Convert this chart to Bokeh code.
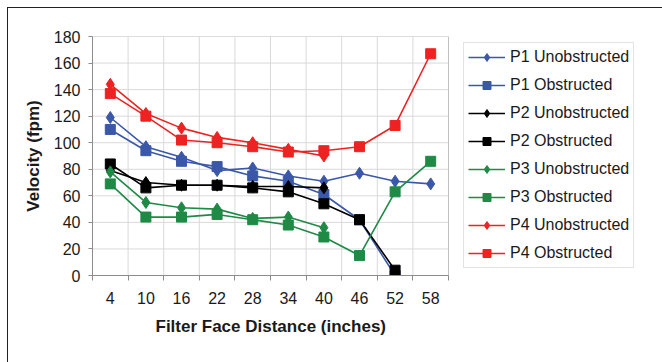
from bokeh.plotting import figure
from bokeh.models import (FixedTicker, Legend, LegendItem, ColumnDataSource, Range1d,
                          BoxAnnotation, Title)
from bokeh.embed import file_html
from bokeh.resources import INLINE

# ---- data ----
categories = ["4", "10", "16", "22", "28", "34", "40", "46", "52", "58"]
p1_unobstructed = [119, 97, 89, 79, 81, 75, 71, 77, 71, 69]
p1_obstructed = [110, 94, 86, 82, 75, 71, 61, 42, 0]
p2_unobstructed = [79, 70, 68, 68, 67, 67, 66]
p2_obstructed = [84, 66, 68, 68, 66, 63, 54, 42, 4]
p3_unobstructed = [78, 55, 51, 50, 43, 44, 36]
p3_obstructed = [69, 44, 44, 46, 42, 38, 29, 15, 63, 86]
p4_unobstructed = [144, 122, 111, 104, 100, 95, 90]
p4_obstructed = [137, 120, 102, 100, 97, 93, 94, 97, 113, 167]
y_ticks = [0, 20, 40, 60, 80, 100, 120, 140, 160, 180]
x_title = "Filter Face Distance (inches)"
y_title = "Velocity (fpm)"

series = [
    ("P1 Unobstructed", p1_unobstructed, "#3b58a8", "diamond"),
    ("P1 Obstructed", p1_obstructed, "#3b58a8", "square"),
    ("P2 Unobstructed", p2_unobstructed, "#000000", "diamond"),
    ("P2 Obstructed", p2_obstructed, "#000000", "square"),
    ("P3 Unobstructed", p3_unobstructed, "#1e8a46", "diamond"),
    ("P3 Obstructed", p3_obstructed, "#1e8a46", "square"),
    ("P4 Unobstructed", p4_unobstructed, "#ee2222", "diamond"),
    ("P4 Obstructed", p4_obstructed, "#ee2222", "square"),
]

n = len(categories)
centers = [i + 0.5 for i in range(n)]
bounds = list(range(n + 1))
y_min, y_max = y_ticks[0], y_ticks[-1]

W, H = 662, 362
LEFT, TOP, RIGHT, BOTTOM = 92, 36, 0, 87
PLOT_W = 356                      # pixel width of the category area
frame_w = W - LEFT - RIGHT
x_end = n * frame_w / PLOT_W      # frame extends under the legend

p = figure(width=W, height=H, output_backend="svg", toolbar_location=None,
           x_range=Range1d(0, x_end), y_range=Range1d(y_min, y_max),
           min_border_left=LEFT, min_border_top=TOP, min_border_right=RIGHT,
           min_border_bottom=BOTTOM)
p.border_fill_color = None
p.styles = {"background":
            "linear-gradient(#222, #222) 7px 7px / 1px 100% no-repeat, "
            "linear-gradient(#222, #222) 7px 7px / 100% 1px no-repeat, white"}
p.background_fill_color = "white"
p.outline_line_color = None
p.xgrid.visible = False
p.ygrid.visible = False

FONT = "Liberation Sans"
GRID = "#d9d9d9"
EDGE = "#8c8c8c"
TXT = "#1a1a1a"

# grid lines limited to the category area
p.segment(x0=[0] * len(y_ticks), x1=[n] * len(y_ticks), y0=y_ticks, y1=y_ticks,
          line_color=GRID, line_width=1)
p.segment(x0=bounds, x1=bounds, y0=[y_min] * len(bounds), y1=[y_max] * len(bounds),
          line_color=GRID, line_width=1)
p.add_layout(BoxAnnotation(left=0, right=n, bottom=y_min, top=y_max,
                           fill_alpha=0, line_color=EDGE, line_width=1))

# x axis
p.xaxis.ticker = FixedTicker(ticks=centers, minor_ticks=bounds)
p.xaxis.bounds = (0, n)
p.xaxis.major_label_overrides = {c: lab for c, lab in zip(centers, categories)}
p.xaxis.major_tick_out = 0
p.xaxis.major_tick_in = 0
p.xaxis.minor_tick_out = 5
p.xaxis.minor_tick_in = 0
p.xaxis.major_label_standoff = 11

# y axis
p.yaxis.ticker = FixedTicker(ticks=y_ticks)
p.yaxis.major_tick_out = 4
p.yaxis.major_tick_in = 0
p.yaxis.minor_tick_out = 0
p.yaxis.minor_tick_in = 0
p.yaxis.major_label_standoff = 8
p.yaxis.axis_label = y_title
p.yaxis.axis_label_standoff = 8

for ax in (p.xaxis[0], p.yaxis[0]):
    ax.axis_line_color = EDGE
    ax.major_tick_line_color = EDGE
    ax.minor_tick_line_color = EDGE
    ax.major_label_text_font = FONT
    ax.major_label_text_font_size = "16px"
    ax.major_label_text_color = TXT
    ax.axis_label_text_font = FONT
    ax.axis_label_text_font_size = "17px"
    ax.axis_label_text_font_style = "bold"
    ax.axis_label_text_color = TXT

# x-axis title centred under the category area (not under the whole frame)
X_TITLE_W = 230                   # approx. rendered width of the title text
p.add_layout(Title(text=x_title, align="left",
                   offset=PLOT_W / 2 - X_TITLE_W / 2, standoff=16,
                   text_font=FONT, text_font_size="17px",
                   text_font_style="bold", text_color=TXT), "below")

items = []
for name, vals, color, marker in series:
    xs = centers[:len(vals)]
    src = ColumnDataSource(dict(x=xs, y=vals))
    r1 = p.line("x", "y", source=src, line_color=color, line_width=1.6)
    size = 12 if marker == "diamond" else 10
    r2 = p.scatter("x", "y", source=src, marker=marker, size=size,
                   fill_color=color, line_color=color)
    items.append(LegendItem(label=name, renderers=[r1, r2]))

legend = Legend(items=items, location=(371, 7), margin=0, padding=4,
                spacing=8, glyph_width=37, glyph_height=20, label_height=20,
                label_standoff=5, label_text_font=FONT,
                label_text_font_size="16px", label_text_color=TXT,
                border_line_color="#c8c8c8", border_line_width=1,
                background_fill_color="white")
p.add_layout(legend)

open("out.html", "w").write(file_html(p, INLINE))
